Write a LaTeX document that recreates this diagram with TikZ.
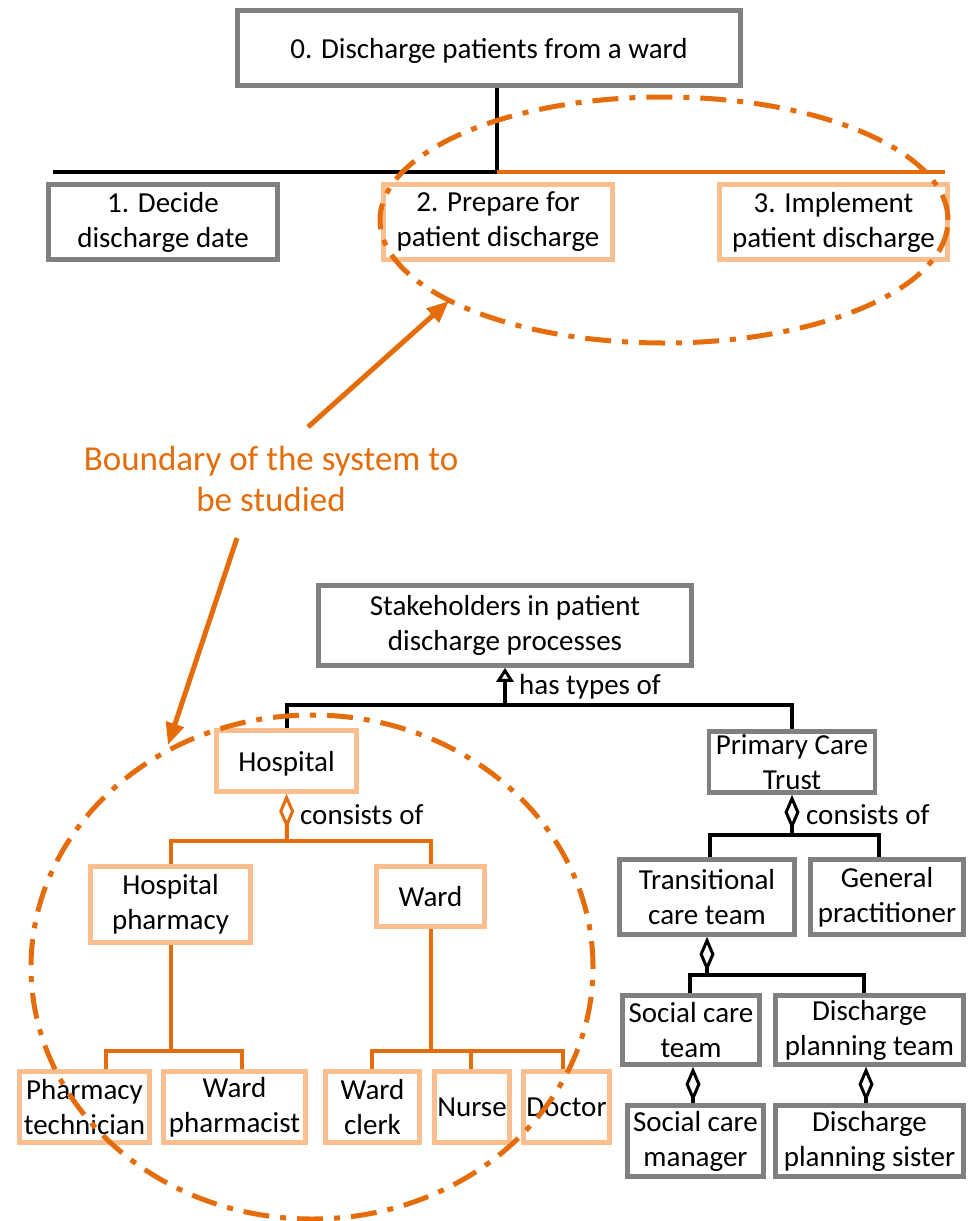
\documentclass[tikz,border=0pt]{standalone}
\usepackage{fontspec}
\setmainfont{Carlito}
\usetikzlibrary{arrows.meta}
\definecolor{grayb}{RGB}{128,128,128}
\definecolor{peach}{RGB}{251,191,143}
\definecolor{orng}{RGB}{228,108,10}
\begin{document}
\begin{tikzpicture}[x=1pt,y=-1pt,
  box/.style={draw=grayb, line width=4.5pt, fill=white, align=center, inner sep=0pt, font=\fontsize{29}{35}\selectfont},
  pbox/.style={box, draw=peach},
  oneline/.style={text depth=0pt},
  conn/.style={line width=4pt, line join=miter},
  bconn/.style={conn, draw=black},
  oconn/.style={conn, draw=orng},
  dia/.style={{Diamond[open,length=35pt,width=15pt,line width=3pt]}-},
  lbl/.style={font=\fontsize{29}{35}\selectfont, inner sep=0pt, anchor=west},
  bound/.style={draw=orng, line width=5pt, dash pattern=on 26pt off 11pt on 6pt off 11pt},
  barrow/.style={draw=orng, line width=5pt, -{Triangle[length=22pt,width=18pt]}}
]
\useasboundingbox (0,0) rectangle (971,1221);

% ---- process hierarchy ----
\node[box, oneline, minimum width=503pt, minimum height=75pt] (b0) at (489,48) {0. Discharge patients from a ward};
\node[box, minimum width=229pt, minimum height=75pt] (b1) at (163,222) {1. Decide\\discharge date};
\node[pbox, minimum width=229pt, minimum height=75pt] (b2) at (498,222) {2. Prepare for\\patient discharge};
\node[pbox, minimum width=228pt, minimum height=75pt] (b3) at (833.5,222) {3. Implement\\patient discharge};

\coordinate (jt) at (497,172);
\coordinate (jtl) at (53,172);
\coordinate (jtr) at (945,172);
\draw[bconn, line width=4.5pt] (b0.south -| jt) -- (jt);
\draw[bconn, line width=4.5pt] (jtl) -- (jt);
\draw[oconn, line width=4.5pt] (jt) -- (jtr);

% ---- stakeholders ----
\node[box, minimum width=373pt, minimum height=80pt] (sh) at (505,625.5) {Stakeholders in patient\\discharge processes};
\node[pbox, oneline, minimum width=140pt, minimum height=61pt] (hosp) at (286.5,761) {Hospital};
\node[box, minimum width=166pt, minimum height=61pt] (pct) at (792,762) {Primary Care\\Trust};
\node[pbox, minimum width=160pt, minimum height=76pt] (hp) at (170.5,904.5) {Hospital\\pharmacy};
\node[pbox, oneline, minimum width=108pt, minimum height=60pt] (ward) at (430.5,896.5) {Ward};
\node[pbox, minimum width=130pt, minimum height=71pt] (ptech) at (84.5,1107) {Pharmacy\\technician};
\node[pbox, minimum width=142pt, minimum height=71pt] (wph) at (234.5,1107) {Ward\\pharmacist};
\node[pbox, minimum width=94pt, minimum height=71pt] (wclerk) at (372.5,1107) {Ward\\clerk};
\node[pbox, oneline, minimum width=75pt, minimum height=71pt] (nurse) at (472,1107) {Nurse};
\node[pbox, oneline, minimum width=86pt, minimum height=71pt] (doctor) at (566.5,1107) {Doctor};
\node[box, minimum width=175pt, minimum height=75pt] (tct) at (707,897) {Transitional\\care team};
\node[box, minimum width=153pt, minimum height=75pt] (gp) at (887,897) {General\\practitioner};
\node[box, minimum width=137pt, minimum height=69pt] (sct) at (691,1030) {Social care\\team};
\node[box, minimum width=188pt, minimum height=69pt] (dpt) at (869.5,1030) {Discharge\\planning team};
\node[box, minimum width=136pt, minimum height=71pt] (scm) at (695.5,1141) {Social care\\manager};
\node[box, minimum width=188pt, minimum height=71pt] (dps) at (869.5,1141) {Discharge\\planning sister};

% has types of
\coordinate (js) at (505,705);
\coordinate (jsr) at (792,705);
\draw[bconn, -{Triangle[open,length=14pt,width=17pt,line width=3pt]}] (js) -- (sh.south);
\draw[bconn] (hosp.north) |- (jsr) -- (pct.north);
\node[lbl] (ht) at (519,687) {has types of};

% hospital consists of
\coordinate (jh) at (287,841);
\draw[oconn, dia] (hosp.south) -- (jh);
\draw[oconn] (hp.north) |- (jh) -| (ward.north);
\node[lbl] (hc) at (300,815) {consists of};

% hospital pharmacy
\coordinate (jhpl) at (106,1051);
\coordinate (jhpr) at (242,1051);
\draw[oconn] (hp.south) -- (hp.south |- jhpl);
\draw[oconn] (jhpl |- ptech.north) -- (jhpl) -- (jhpr) -- (jhpr |- wph.north);

% ward
\coordinate (jwl) at (372,1051);
\coordinate (jwm) at (471,1051);
\coordinate (jwr) at (563,1051);
\draw[oconn] (ward.south) -- (ward.south |- jwl);
\draw[oconn] (jwl |- wclerk.north) -- (jwl) -- (jwr) -- (jwr |- doctor.north);
\draw[oconn] (jwm) -- (jwm |- nurse.north);

% PCT consists of
\coordinate (jp) at (792,835);
\coordinate (jpl) at (710,835);
\coordinate (jpr) at (879,835);
\draw[bconn, dia] (pct.south) -- (jp);
\draw[bconn] (jpl |- tct.north) -- (jpl) -- (jpr) -- (jpr |- gp.north);
\node[lbl] (pc) at (806,815) {consists of};

% transitional care team
\coordinate (jt2) at (707,975);
\coordinate (jt2l) at (690,975);
\coordinate (jt2r) at (864,975);
\draw[bconn, dia] (tct.south) -- (jt2);
\draw[bconn] (jt2l |- sct.north) -- (jt2l) -- (jt2r) -- (jt2r |- dpt.north);

% lower diamonds
\coordinate (jsc) at (693,1030);
\coordinate (jdp) at (866,1030);
\draw[bconn, dia] (jsc |- sct.south) -- (jsc |- scm.north);
\draw[bconn, dia] (jdp |- dpt.south) -- (jdp |- dps.north);

% ---- boundary label and arrows ----
\node[font=\fontsize{35}{41}\selectfont, text=orng, align=center, inner sep=0pt] (blabel) at (271,479) {Boundary of the system to\\be studied};
\coordinate (a1s) at (308,427);
\coordinate (a1e) at (449,301);
\coordinate (a2s) at (237,538);
\coordinate (a2e) at (168,745);
\draw[barrow] (a1s) -- (a1e);
\draw[barrow] (a2s) -- (a2e);

% ---- boundaries ----
\draw[bound] (664,220) ellipse [x radius=284pt, y radius=123pt];
\draw[bound] (312,967) ellipse [x radius=281pt, y radius=252pt];
\end{tikzpicture}
\end{document}
